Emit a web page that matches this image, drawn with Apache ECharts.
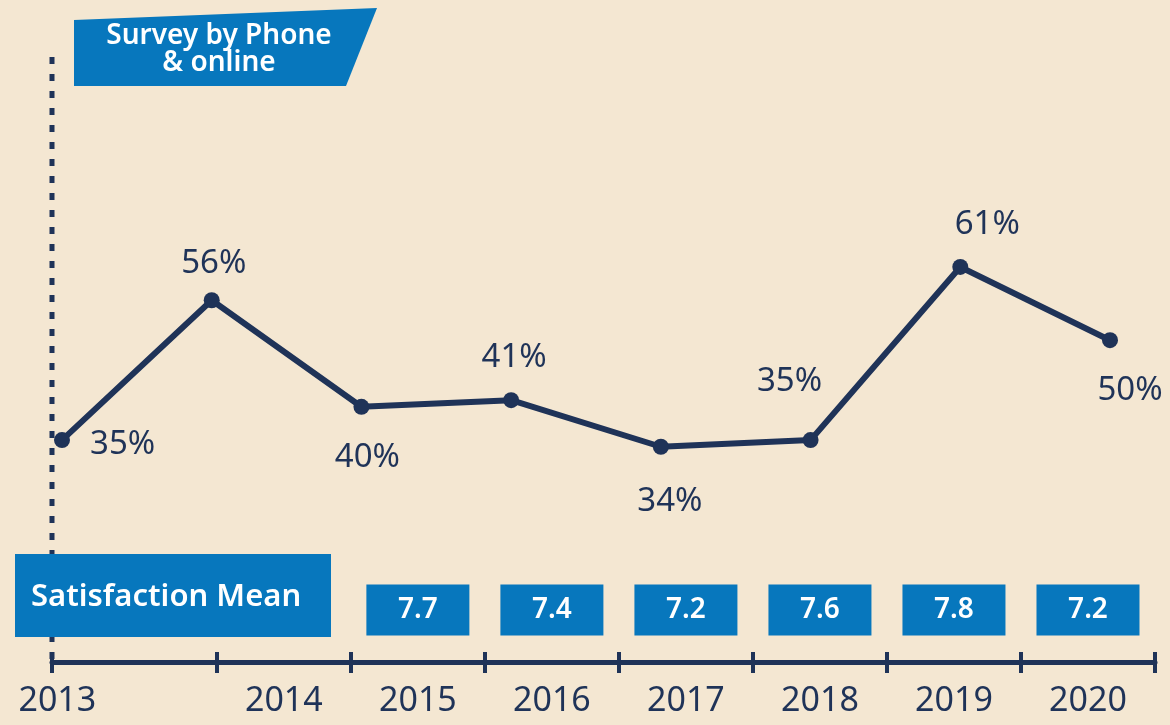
<!DOCTYPE html>
<html>
<head>
<meta charset="utf-8">
<script src="https://cdn.jsdelivr.net/npm/echarts@6/dist/echarts.min.js"></script>
<style>
  html, body { margin: 0; padding: 0; background: #f4e7d2; }
  #chart { width: 1170px; height: 725px; }
</style>
</head>
<body>
<div id="chart"></div>
<script>
// data
const years = ['2013', '2014', '2015', '2016', '2017', '2018', '2019', '2020'];
const rates = [35, 56, 40, 41, 34, 35, 61, 50];
const meanYears = [2015, 2016, 2017, 2018, 2019, 2020];
const meanValues = [7.7, 7.4, 7.2, 7.6, 7.8, 7.2];

const navy = '#1f3358';
const blue = '#0777bd';
const font = '"Noto Sans", sans-serif';

// timeline: first period (2013) is drawn wider than the others
const axisStart = 2012.27;
const tickVals = [axisStart].concat(years.map(y => +y + 0.5));
const labelVals = [axisStart + 0.04].concat(years.slice(1).map(Number));

// where each % label sits around its point
const labelPos = [
  { position: 'right', distance: 20, offset: [0, 4] },
  { position: 'top', distance: 12, offset: [2, 0] },
  { position: 'bottom', distance: 26, offset: [6, 0] },
  { position: 'top', distance: 18, offset: [3, 0] },
  { position: 'bottom', distance: 30, offset: [9, 0] },
  { position: 'top', distance: 34, offset: [-21, 0] },
  { position: 'top', distance: 18, offset: [27, 0] },
  { position: 'bottom', distance: 26, offset: [20, 0] }
];

const chart = echarts.init(document.getElementById('chart'));

const option = {
  backgroundColor: '#f4e7d2',
  animation: false,
  grid: [
    { left: 62, right: 60, top: 207, bottom: 185 },
    { left: 52, right: 15, top: 558, bottom: 63 }
  ],
  xAxis: [
    {
      gridIndex: 0, type: 'category', data: years, boundaryGap: false, show: false
    },
    {
      gridIndex: 1, type: 'value', min: axisStart, max: 2020.5,
      splitLine: { show: false },
      axisLine: { show: true, lineStyle: { color: navy, width: 5 } },
      axisTick: { show: true, customValues: tickVals, length: 11, lineStyle: { color: navy, width: 4 } },
      axisLabel: {
        show: true, customValues: labelVals, margin: 22,
        color: navy, fontFamily: font, fontSize: 34,
        formatter: v => String(Math.ceil(v - 1e-6))
      }
    },
    {
      gridIndex: 1, type: 'value', min: axisStart, max: 2020.5, position: 'bottom',
      splitLine: { show: false },
      axisLine: { show: false },
      axisTick: { show: true, inside: true, customValues: tickVals, length: 10, lineStyle: { color: navy, width: 4 } },
      axisLabel: { show: false }
    }
  ],
  yAxis: [
    { gridIndex: 0, type: 'value', min: 20, max: 70, show: false },
    { gridIndex: 1, type: 'category', data: ['Satisfaction Mean'], show: false }
  ],
  series: [
    {
      type: 'line',
      xAxisIndex: 0, yAxisIndex: 0,
      data: rates.map((v, i) => ({ value: v, label: labelPos[i] })),
      lineStyle: { color: navy, width: 6 },
      itemStyle: { color: navy },
      symbol: 'circle', symbolSize: 16,
      label: {
        show: true, color: navy, fontFamily: font, fontSize: 33,
        formatter: p => p.value + '%'
      },
      z: 3
    },
    {
      type: 'scatter',
      xAxisIndex: 1, yAxisIndex: 1,
      data: meanYears.map((y, i) => [y, 'Satisfaction Mean', meanValues[i]]),
      symbol: 'rect', symbolSize: [103, 51],
      itemStyle: { color: blue, opacity: 1 },
      label: {
        show: true, position: 'inside', color: '#fff',
        fontFamily: font, fontSize: 28, fontWeight: 600,
        formatter: p => p.value[2].toFixed(1)
      }
    }
  ],
  graphic: [
    {
      type: 'line', z: 1,
      shape: { x1: 52, y1: 57, x2: 52, y2: 668 },
      style: { stroke: navy, lineWidth: 5, lineDash: [7, 10] }
    },
    {
      type: 'rect', z: 20,
      shape: { x: 15, y: 554, width: 316, height: 83 },
      style: { fill: blue }
    },
    {
      type: 'text', z: 21, x: 31, y: 597,
      style: {
        text: 'Satisfaction Mean', fill: '#fff', font: '600 31px "Noto Sans", sans-serif',
        verticalAlign: 'middle', align: 'left'
      }
    },
    {
      type: 'polygon', z: 20,
      shape: { points: [[74, 20], [377, 8], [346, 86], [74, 86]] },
      style: { fill: blue }
    },
    {
      type: 'text', z: 21, x: 219, y: 50,
      style: {
        text: 'Survey by Phone\n& online', fill: '#fff', font: '600 28px "Noto Sans", sans-serif',
        lineHeight: 27, align: 'center', verticalAlign: 'middle'
      }
    }
  ]
};

chart.setOption(option);
</script>
</body>
</html>
